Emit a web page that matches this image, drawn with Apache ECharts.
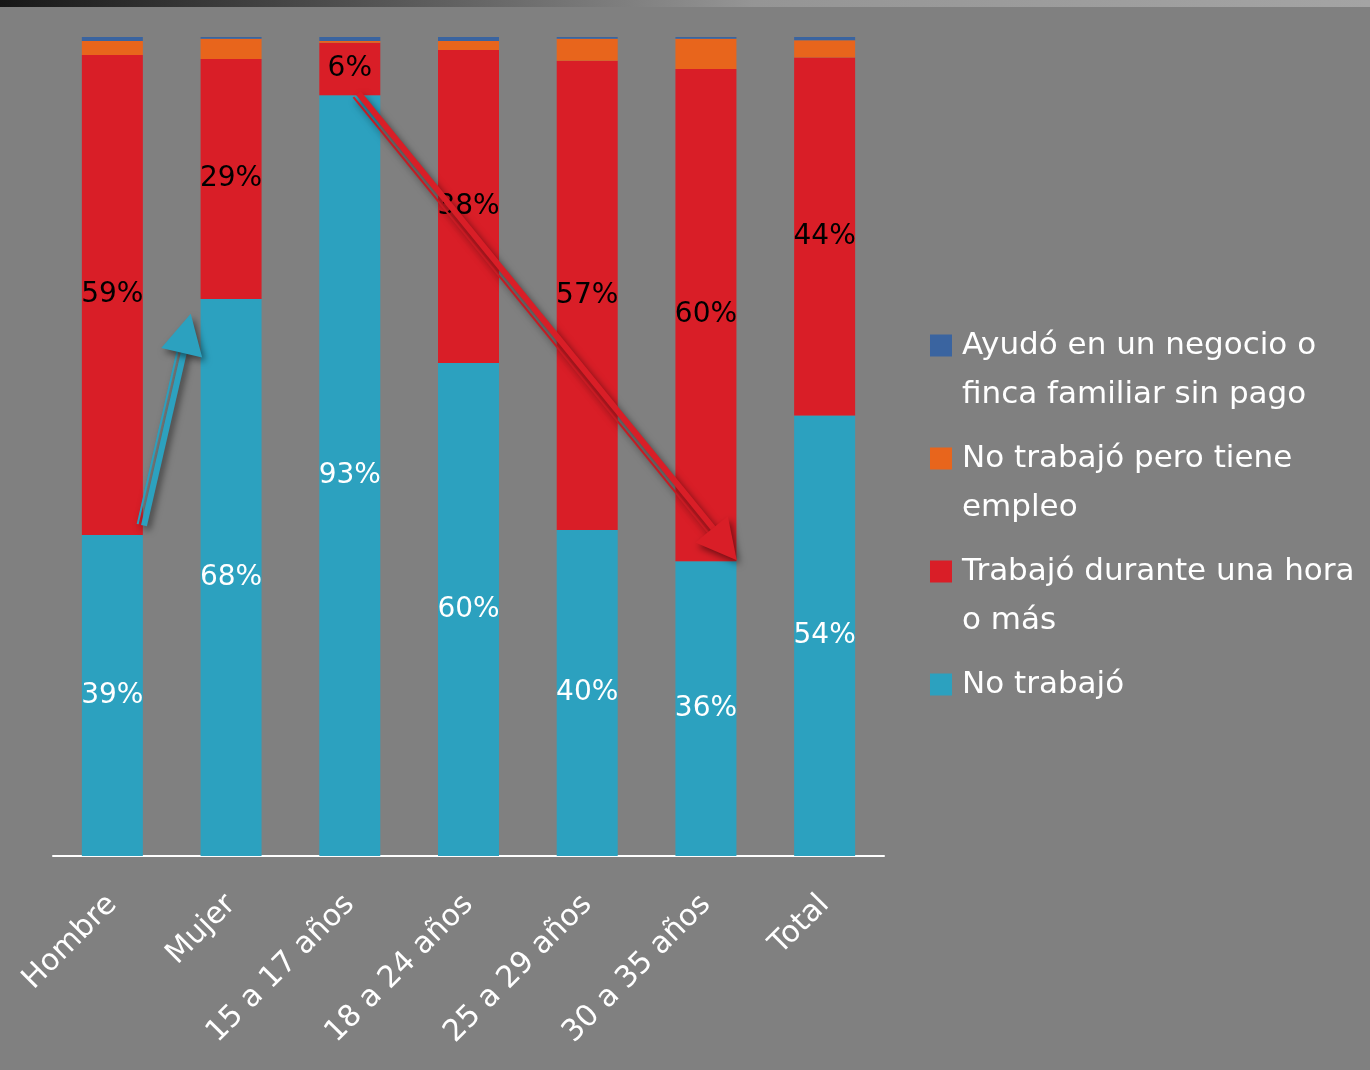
<!DOCTYPE html>
<html>
<head>
<meta charset="utf-8">
<script src="https://cdn.jsdelivr.net/npm/echarts@6/dist/echarts.min.js"></script>
<style>
html,body{margin:0;padding:0;background:#808080;}
#chart{width:1370px;height:1070px;}
</style>
</head>
<body>
<div id="chart"></div>
<script>
// ---- data ----
var categories = ['Hombre', 'Mujer', '15 a 17 años', '18 a 24 años', '25 a 29 años', '30 a 35 años', 'Total'];
var noTrabajo      = [39.2, 68.0, 92.9, 60.2, 39.8, 36.0, 53.8];
var trabajoHora    = [58.6, 29.3, 6.4, 38.2, 57.3, 60.1, 43.7];
var noTrabajoEmpleo = [1.7, 2.5, 0.2, 1.1, 2.7, 3.7, 2.1];
var ayudoNegocio   = [0.5, 0.2, 0.5, 0.5, 0.2, 0.2, 0.4];
var seriesNames = ['No trabajó', 'Trabajó durante una hora o más', 'No trabajó pero tiene empleo', 'Ayudó en un negocio o finca familiar sin pago'];
var legendLines = {
  'Ayudó en un negocio o finca familiar sin pago': ['Ayudó en un negocio o', 'finca familiar sin pago'],
  'No trabajó pero tiene empleo': ['No trabajó pero tiene', 'empleo'],
  'Trabajó durante una hora o más': ['Trabajó durante una hora', 'o más'],
  'No trabajó': ['No trabajó', ' ']
};
// annotation arrows: [category position, value] for tail and tip
var arrowTeal = [[0.25, 40.4], [0.66, 66.2]];
var arrowRed  = [[2.06, 93.0], [5.26, 36.1]];

var colors = {teal: '#2CA1BF', red: '#D91E27', orange: '#E8651C', navy: '#3A64A0'};
var FONT = 'DejaVu Sans';

var chart = echarts.init(document.getElementById('chart'));

function barSeries(name, data, color, showLabel, labelColor) {
  return {
    name: name, type: 'bar', stack: 'all', data: data, barWidth: 61,
    itemStyle: {color: color},
    label: {
      show: showLabel, position: 'inside', color: labelColor,
      fontFamily: FONT, fontSize: 28,
      formatter: function (p) { return Math.round(p.value) + '%'; }
    },
    emphasis: {disabled: true}
  };
}

var option = {
  backgroundColor: '#808080',
  animation: false,
  grid: {left: 53, right: 486, top: 37, bottom: 214},
  xAxis: {
    type: 'category', data: categories,
    axisLine: {lineStyle: {color: '#ffffff', width: 2}},
    axisTick: {show: false},
    axisLabel: {color: '#ffffff', fontFamily: FONT, fontSize: 30, rotate: 45, margin: 44, interval: 0}
  },
  yAxis: {type: 'value', min: 0, max: 100, show: false, splitLine: {show: false}},
  legend: {
    orient: 'vertical', left: 930, top: 272, padding: 0,
    itemWidth: 22, itemHeight: 22, itemGap: -34,
    icon: 'rect',
    data: [seriesNames[3], seriesNames[2], seriesNames[1], seriesNames[0]],
    selectedMode: false,
    textStyle: {color: '#ffffff', fontFamily: FONT, fontSize: 31, lineHeight: 49, padding: [0, 0, 0, 5]},
    formatter: function (name) {
      var l = legendLines[name];
      return ' \n' + l[0] + '\n' + l[1];
    }
  },
  series: [
    barSeries(seriesNames[0], noTrabajo, colors.teal, true, '#ffffff'),
    barSeries(seriesNames[1], trabajoHora, colors.red, true, '#000000'),
    barSeries(seriesNames[2], noTrabajoEmpleo, colors.orange, false, '#000'),
    barSeries(seriesNames[3], ayudoNegocio, colors.navy, false, '#000')
  ],
  graphic: [{
    type: 'rect', left: 0, top: 0, z: 10,
    shape: {width: 1370, height: 7},
    style: {fill: new echarts.graphic.LinearGradient(0, 0, 1, 0, [
      {offset: 0, color: '#171717'}, {offset: 0.3, color: '#5a5a5a'}, {offset: 0.55, color: '#959595'}, {offset: 1, color: '#a4a4a4'}])}
  }]
};
chart.setOption(option);

function toPx(pt) {
  var i = Math.floor(pt[0]);
  var a = chart.convertToPixel({xAxisIndex: 0}, categories[i]);
  var b = chart.convertToPixel({xAxisIndex: 0}, categories[i + 1]);
  var x = a + (pt[0] - i) * (b - a);
  var y = chart.convertToPixel({yAxisIndex: 0}, pt[1]);
  return [x, y];
}

// thinSide: -1 or 1 — which side of the shaft carries the thin line
function arrowGraphics(def, color, thinSide) {
  var p0 = toPx(def[0]), p1 = toPx(def[1]);
  var dx = p1[0] - p0[0], dy = p1[1] - p0[1];
  var len = Math.sqrt(dx * dx + dy * dy);
  var ux = dx / len, uy = dy / len;
  var nx = -uy, ny = ux;
  var headLen = 40, headW = 21;
  var bx = p1[0] - ux * headLen, by = p1[1] - uy * headLen;
  var shadow = {shadowBlur: 7, shadowColor: 'rgba(0,0,0,0.5)', shadowOffsetX: 3, shadowOffsetY: 4};
  var lines = [{off: 4.5 * thinSide, w: 2}, {off: -2 * thinSide, w: 6}];
  var items = [];
  lines.forEach(function (ln) {
    items.push({
      type: 'line', z: 20,
      shape: {x1: p0[0] + nx * ln.off, y1: p0[1] + ny * ln.off, x2: bx + ux * 4 + nx * ln.off, y2: by + uy * 4 + ny * ln.off},
      style: Object.assign({stroke: color, lineWidth: ln.w}, shadow)
    });
  });
  items.push({
    type: 'polygon', z: 21,
    shape: {points: [[p1[0], p1[1]], [bx + nx * headW, by + ny * headW], [bx - nx * headW, by - ny * headW]]},
    style: Object.assign({fill: color}, shadow)
  });
  return items;
}

var g = option.graphic.concat(arrowGraphics(arrowTeal, colors.teal, -1), arrowGraphics(arrowRed, colors.red, 1));
chart.setOption({graphic: g});
</script>
</body>
</html>
